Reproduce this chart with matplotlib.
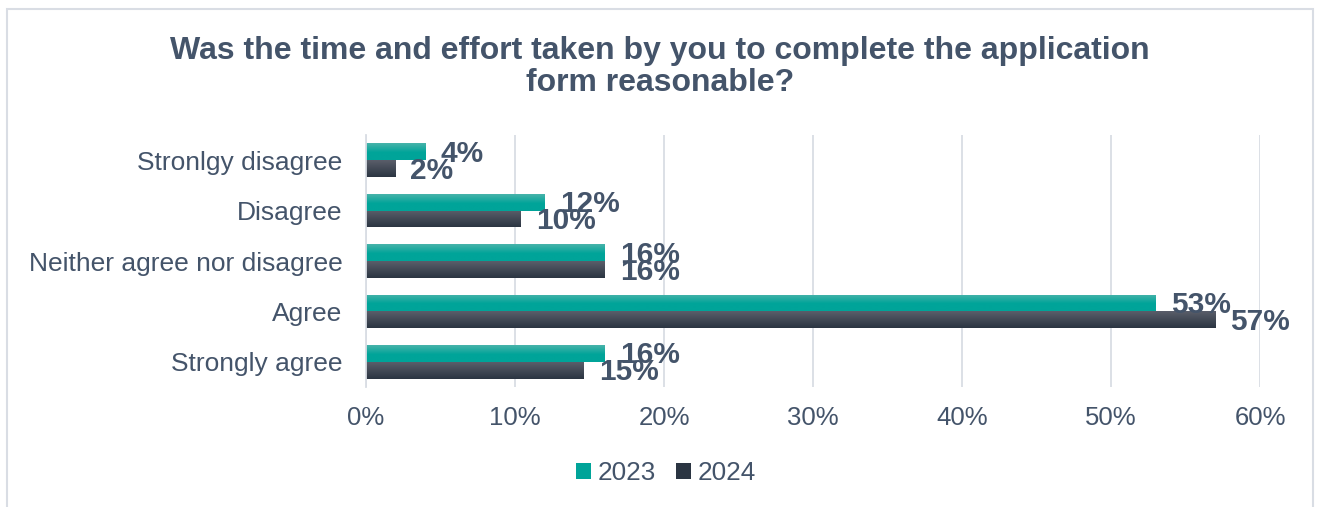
import numpy as np
import matplotlib
matplotlib.use("Agg")
import matplotlib.pyplot as plt
from matplotlib.colors import to_rgb
from matplotlib.patches import Patch, Rectangle

# data
categories = ["Stronlgy disagree", "Disagree", "Neither agree nor disagree",
              "Agree", "Strongly agree"]
years = ["2023", "2024"]
values_2023 = [4.0, 12.0, 16.0, 53.0, 16.0]
values_2024 = [1.95, 10.4, 16.0, 57.0, 14.6]
xticks = [0, 10, 20, 30, 40, 50, 60]

title = ("Was the time and effort taken by you to complete the application\n"
         "form reasonable?")

text_col = "#44546a"
grid_col = "#d9dde4"
teal = "#00a499"
teal_top = "#48b3aa"
dark = "#2b3542"
dark_top = "#5a5e6a"

plt.rcParams["font.family"] = ["Liberation Sans", "DejaVu Sans"]

fig = plt.figure(figsize=(13.17, 5.07), dpi=100)
fig.patches.append(Rectangle((7 / 1317, -0.05), 1306 / 1317, 1 - 9 / 507 + 0.05,
                             transform=fig.transFigure, fill=False,
                             edgecolor="#d9dde4", linewidth=1.5))
ax = fig.add_axes([366 / 1317, 1 - 387 / 507, 894 / 1317, 252 / 507])

y = np.arange(len(categories))
h = 0.335


def gradient_fill(patches, top, bottom, split):
    # vertical gradient from top colour to bottom colour, clipped to the bar
    n = 64
    t = np.linspace(0, 1, n)
    t = np.clip(t / split, 0, 1)
    c0, c1 = np.array(to_rgb(top)), np.array(to_rgb(bottom))
    img = (c0[None, :] * (1 - t[:, None]) + c1[None, :] * t[:, None])[:, None, :]
    for p in patches:
        x0, y0 = p.get_x(), p.get_y()
        w, hh = p.get_width(), p.get_height()
        im = ax.imshow(img, extent=(x0, x0 + w, y0 + hh, y0), origin="upper",
                       aspect="auto", interpolation="bilinear", zorder=2)
        im.set_clip_path(p)


b1 = ax.barh(y - h / 2, values_2023, height=h, color=teal, zorder=2)
b2 = ax.barh(y + h / 2, values_2024, height=h, color=dark, zorder=2)
gradient_fill(b1, teal_top, teal, 0.55)
gradient_fill(b2, dark_top, dark, 1.0)

for bars, vals in ((b1, values_2023), (b2, values_2024)):
    for p, v in zip(bars, vals):
        ax.annotate("{:.0f}%".format(v), (v, p.get_y() + p.get_height() / 2),
                    xytext=(11, -1.5), textcoords="offset points",
                    ha="left", va="center", fontsize=21.5, fontweight="bold",
                    color=text_col, zorder=4)

ax.set_xlim(0, 60)
ax.set_ylim(len(categories) - 0.5, -0.5)
ax.set_xticks(xticks)
ax.set_xticklabels(["{}%".format(t) for t in xticks])
ax.set_yticks(y)
ax.set_yticklabels(categories)
ax.tick_params(axis="x", length=0, pad=14, labelsize=18.5, labelcolor=text_col)
ax.tick_params(axis="y", length=0, pad=17, labelsize=19, labelcolor=text_col)
ax.grid(axis="x", color=grid_col, linewidth=1.3, zorder=0)
ax.set_axisbelow(True)
for s in ("top", "right", "bottom"):
    ax.spines[s].set_visible(False)
ax.spines["left"].set_color(grid_col)
ax.spines["left"].set_linewidth(1.3)

fig.text(660 / 1317, 1 - 67 / 507, title, ha="center", va="center",
         fontsize=23, fontweight="bold", color=text_col, linespacing=1.13)

handles = [Patch(facecolor=teal, edgecolor="none"),
           Patch(facecolor=dark, edgecolor="none")]
fig.legend(handles, years, loc="center", bbox_to_anchor=(666 / 1317, 1 - 473 / 507),
           ncol=2, frameon=False, fontsize=18.8, labelcolor=text_col,
           handlelength=0.58, handleheight=0.58, handletextpad=0.25,
           columnspacing=0.75, borderpad=0, borderaxespad=0)

fig.savefig("out.png", dpi=100)
